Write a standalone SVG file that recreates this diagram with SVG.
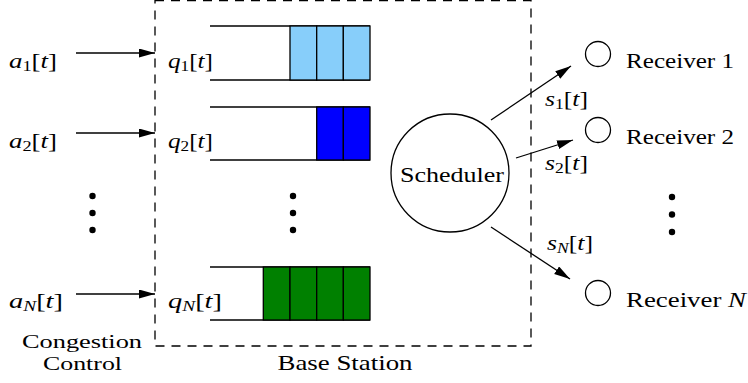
<svg xmlns="http://www.w3.org/2000/svg" width="748" height="383" viewBox="0 0 748 383">
<style>
text{font-family:"Liberation Serif","DejaVu Serif",serif;font-size:22px;fill:#000}
.i{font-style:italic}
.sub{font-size:15px}
.sm{font-size:19px}
.ln{stroke:#000;stroke-width:1.3;fill:none}
.cell{stroke:#000;stroke-width:1.3}
.dash{stroke:#000;stroke-width:1.3;fill:none;stroke-dasharray:9 7}
.dot{fill:#000}
</style>
<defs>
<marker id="ah" markerUnits="userSpaceOnUse" markerWidth="17" markerHeight="10" refX="16" refY="4.5" orient="auto">
<path d="M0,0 L16,4.5 L0,9 z" fill="#000"/>
</marker>
</defs>
<rect width="748" height="383" fill="#fff"/>

<g id="base-station">
<rect class="dash" x="155" y="0.5" width="376" height="345.5"/>
<text x="345" y="370" text-anchor="middle" textLength="135" lengthAdjust="spacingAndGlyphs">Base Station</text>
</g>

<g id="congestion-control">
<text class="sm" x="82" y="348" text-anchor="middle" textLength="120" lengthAdjust="spacingAndGlyphs">Congestion</text>
<text class="sm" x="82.5" y="370" text-anchor="middle" textLength="79" lengthAdjust="spacingAndGlyphs">Control</text>
</g>

<g id="input-labels">
<text x="9" y="68" textLength="48" lengthAdjust="spacingAndGlyphs"><tspan class="i">a</tspan><tspan class="sub" dy="3">1</tspan><tspan dy="-3">[</tspan><tspan class="i">t</tspan>]</text>
<text x="9" y="148" textLength="48" lengthAdjust="spacingAndGlyphs"><tspan class="i">a</tspan><tspan class="sub" dy="3">2</tspan><tspan dy="-3">[</tspan><tspan class="i">t</tspan>]</text>
<text x="9" y="308" textLength="54" lengthAdjust="spacingAndGlyphs"><tspan class="i">a</tspan><tspan class="sub i" dy="3">N</tspan><tspan dy="-3">[</tspan><tspan class="i">t</tspan>]</text>
</g>

<g id="queue-1">
<line class="ln" x1="210" y1="26" x2="370" y2="26"/>
<line class="ln" x1="210" y1="80" x2="370" y2="80"/>
<rect class="cell" x="290" y="26" width="26.7" height="54" fill="#87CEFA"/>
<rect class="cell" x="316.7" y="26" width="26.7" height="54" fill="#87CEFA"/>
<rect class="cell" x="343.3" y="26" width="26.7" height="54" fill="#87CEFA"/>
<text x="168" y="68" textLength="45" lengthAdjust="spacingAndGlyphs"><tspan class="i">q</tspan><tspan class="sub" dy="3">1</tspan><tspan dy="-3">[</tspan><tspan class="i">t</tspan>]</text>
</g>

<g id="queue-2">
<line class="ln" x1="210" y1="107" x2="370" y2="107"/>
<line class="ln" x1="210" y1="160" x2="370" y2="160"/>
<rect class="cell" x="316.7" y="107" width="26.7" height="53" fill="#0000FF"/>
<rect class="cell" x="343.3" y="107" width="26.7" height="53" fill="#0000FF"/>
<text x="168" y="148" textLength="45" lengthAdjust="spacingAndGlyphs"><tspan class="i">q</tspan><tspan class="sub" dy="3">2</tspan><tspan dy="-3">[</tspan><tspan class="i">t</tspan>]</text>
</g>

<g id="queue-N">
<line class="ln" x1="210" y1="267" x2="370" y2="267"/>
<line class="ln" x1="210" y1="320" x2="370" y2="320"/>
<rect class="cell" x="263.3" y="267" width="26.7" height="53" fill="#008000"/>
<rect class="cell" x="290" y="267" width="26.7" height="53" fill="#008000"/>
<rect class="cell" x="316.7" y="267" width="26.7" height="53" fill="#008000"/>
<rect class="cell" x="343.3" y="267" width="26.7" height="53" fill="#008000"/>
<text x="168" y="308" textLength="54" lengthAdjust="spacingAndGlyphs"><tspan class="i">q</tspan><tspan class="sub i" dy="3">N</tspan><tspan dy="-3">[</tspan><tspan class="i">t</tspan>]</text>
</g>

<g id="ellipses">
<circle class="dot" cx="92.5" cy="196" r="3.2"/>
<circle class="dot" cx="92.5" cy="213" r="3.2"/>
<circle class="dot" cx="92.5" cy="230" r="3.2"/>
<circle class="dot" cx="293" cy="196" r="3.2"/>
<circle class="dot" cx="293" cy="213" r="3.2"/>
<circle class="dot" cx="293" cy="230" r="3.2"/>
<circle class="dot" cx="672" cy="197" r="3.2"/>
<circle class="dot" cx="672" cy="214.5" r="3.2"/>
<circle class="dot" cx="672" cy="232" r="3.2"/>
</g>

<g id="scheduler">
<circle class="ln" cx="450" cy="173" r="59"/>
<text x="452" y="182" text-anchor="middle" textLength="104" lengthAdjust="spacingAndGlyphs">Scheduler</text>
</g>

<g id="receiver-1">
<circle class="ln" cx="598" cy="54" r="12.5"/>
<text x="626" y="68" textLength="108" lengthAdjust="spacingAndGlyphs">Receiver 1</text>
</g>
<g id="receiver-2">
<circle class="ln" cx="598" cy="130" r="12.5"/>
<text x="626" y="144" textLength="108" lengthAdjust="spacingAndGlyphs">Receiver 2</text>
</g>
<g id="receiver-N">
<circle class="ln" cx="598" cy="293" r="12.5"/>
<text x="626" y="307" textLength="120" lengthAdjust="spacingAndGlyphs">Receiver <tspan class="i">N</tspan></text>
</g>

<g id="connectors">
<line class="ln" x1="76" y1="53" x2="155" y2="53" marker-end="url(#ah)"/>
<line class="ln" x1="76" y1="133" x2="155" y2="133" marker-end="url(#ah)"/>
<line class="ln" x1="76" y1="294" x2="155" y2="294" marker-end="url(#ah)"/>
<line class="ln" x1="491" y1="120" x2="571" y2="66" marker-end="url(#ah)"/>
<line class="ln" x1="516" y1="158" x2="573" y2="140" marker-end="url(#ah)"/>
<line class="ln" x1="491" y1="227" x2="570" y2="279" marker-end="url(#ah)"/>
<text x="545" y="106" textLength="43" lengthAdjust="spacingAndGlyphs"><tspan class="i">s</tspan><tspan class="sub" dy="3">1</tspan><tspan dy="-3">[</tspan><tspan class="i">t</tspan>]</text>
<text x="545" y="170" textLength="43" lengthAdjust="spacingAndGlyphs"><tspan class="i">s</tspan><tspan class="sub" dy="3">2</tspan><tspan dy="-3">[</tspan><tspan class="i">t</tspan>]</text>
<text x="547" y="250" textLength="46" lengthAdjust="spacingAndGlyphs"><tspan class="i">s</tspan><tspan class="sub i" dy="3">N</tspan><tspan dy="-3">[</tspan><tspan class="i">t</tspan>]</text>
</g>
</svg>
